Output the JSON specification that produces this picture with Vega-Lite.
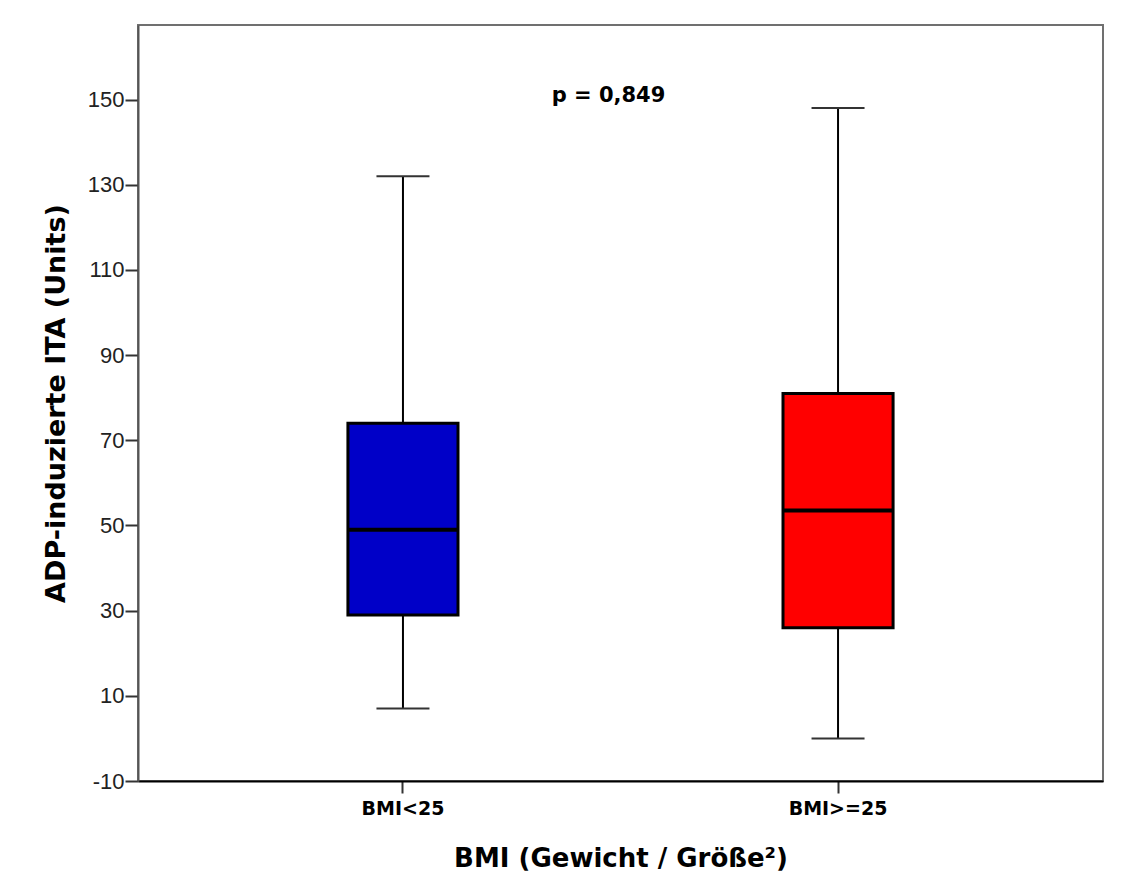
{
  "$schema": "https://vega.github.io/schema/vega-lite/v6.json",
  "autosize": "none",
  "padding": {"left": 138, "top": 25, "right": 29, "bottom": 112},
  "width": 965,
  "height": 756,
  "background": "white",
  "config": {
    "view": {"stroke": "#707070", "strokeWidth": 2},
    "font": "Liberation Sans"
  },
  "title": {
    "text": "p = 0,849",
    "font": "DejaVu Sans",
    "fontWeight": "bold",
    "fontSize": 21,
    "color": "black",
    "anchor": "middle",
    "frame": "group",
    "orient": "top",
    "baseline": "alphabetic",
    "offset": -72,
    "dx": -12,
    "dy": 26
  },
  "data": {
    "values": [
      {"group": "BMI<25", "lower": 7, "q1": 29, "median": 49, "q3": 74, "upper": 132},
      {"group": "BMI>=25", "lower": 0, "q1": 26, "median": 53.5, "q3": 81, "upper": 148}
    ]
  },
  "encoding": {
    "x": {
      "field": "group",
      "type": "nominal",
      "sort": ["BMI<25", "BMI>=25"],
      "scale": {"paddingInner": 0, "paddingOuter": 0.109},
      "axis": {
        "title": "BMI (Gewicht / Größe²)",
        "domainColor": "black",
        "domainWidth": 2,
        "tickColor": "#333",
        "tickWidth": 2,
        "tickSize": 12,
        "labelFont": "DejaVu Sans",
        "labelFontWeight": "bold",
        "labelFontSize": 19,
        "labelColor": "black",
        "labelAngle": 0,
        "labelPadding": 6,
        "titleFont": "DejaVu Sans",
        "titleFontWeight": "bold",
        "titleFontSize": 26,
        "titleColor": "black",
        "titleBaseline": "middle",
        "titleY": 77
      }
    }
  },
  "layer": [
    {
      "mark": {"type": "rule", "color": "black", "strokeWidth": 2},
      "encoding": {
        "y": {
          "field": "lower",
          "type": "quantitative",
          "scale": {"domain": [-10, 167.5], "nice": false, "zero": false},
          "axis": {
            "title": "ADP-induzierte ITA (Units)",
            "values": [-10, 10, 30, 50, 70, 90, 110, 130, 150],
            "labelExpr": "replace(datum.label, '−', '-')",
            "grid": false,
            "domainColor": "#555",
            "domainWidth": 2,
            "tickColor": "#333",
            "tickWidth": 2,
            "tickSize": 13,
            "labelFont": "Liberation Sans",
            "labelFontSize": 22,
            "labelColor": "#222",
            "labelPadding": 1,
            "titleFont": "DejaVu Sans",
            "titleFontWeight": "bold",
            "titleFontSize": 27,
            "titleColor": "black",
            "titleBaseline": "middle",
            "titleAlign": "center",
            "titleAngle": -90,
            "titleX": -82,
            "titleY": 378
          }
        },
        "y2": {"field": "upper"}
      }
    },
    {
      "mark": {"type": "bar", "stroke": "black", "strokeWidth": 3, "width": {"band": 0.253}},
      "encoding": {
        "y": {"field": "q3", "type": "quantitative"},
        "y2": {"field": "q1"},
        "fill": {
          "field": "group",
          "type": "nominal",
          "scale": {"domain": ["BMI<25", "BMI>=25"], "range": ["#0000C8", "#FF0000"]},
          "legend": null
        }
      }
    },
    {
      "mark": {"type": "tick", "color": "black", "size": 110, "thickness": 4, "opacity": 1},
      "encoding": {"y": {"field": "median", "type": "quantitative"}}
    },
    {
      "mark": {"type": "tick", "color": "#333", "size": 53, "thickness": 2, "opacity": 1},
      "encoding": {"y": {"field": "lower", "type": "quantitative"}}
    },
    {
      "mark": {"type": "tick", "color": "#333", "size": 53, "thickness": 2, "opacity": 1},
      "encoding": {"y": {"field": "upper", "type": "quantitative"}}
    }
  ]
}
